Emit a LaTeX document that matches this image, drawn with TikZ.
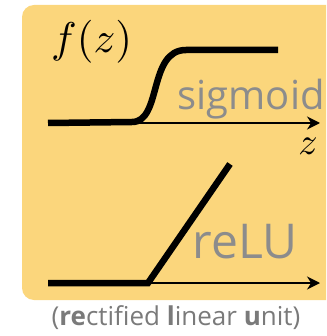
\documentclass[tikz,border=0pt]{standalone}
\usepackage{amsmath}
\usepackage{fontspec}
\setsansfont{Open Sans}
\usepackage{tikz}
\usetikzlibrary{arrows.meta}

\definecolor{panelbg}{HTML}{FBD67C}
\definecolor{labelgray}{HTML}{8C8C8C}
\definecolor{capgray}{HTML}{7A7A7A}

\begin{document}
\begin{tikzpicture}[x=1pt, y=-1pt, >={Stealth[length=13pt, width=13pt]},
  curve/.style={black, line width=6.5pt},
  axis/.style={black, line width=2pt, ->},
  fname/.style={labelgray, font=\sffamily\fontsize{#1}{#1}\selectfont}]
  \useasboundingbox (0,0) rectangle (326,336);
  \clip (0,0) rectangle (326,336);

  % panel
  \fill[panelbg, rounded corners=12pt] (22,5) rectangle (350,300);

  % sigmoid
  \coordinate (sig-o) at (48,123);
  \coordinate (sig-x) at (320,123);
  \draw[axis] (sig-o) -- (sig-x);
  \draw[curve] (sig-o) -- (132,122)
    .. controls (162,122) and (148,50) .. (186,50) -- (278,50);
  \node[anchor=west, scale=4.3] (fz) at (36,42) {$f(z)$};
  \node[scale=3.8] (zlab) at (308,146) {$z$};
  \node[fname=40, anchor=base west] (sig) at (174,110) {sigmoid};

  % reLU
  \coordinate (relu-o) at (48,283);
  \coordinate (relu-k) at (148,283);
  \coordinate (relu-x) at (320,283);
  \draw[axis] (relu-o) -- (relu-x);
  \draw[curve] (relu-o) -- (relu-k) -- (230,164);
  \node[fname=48, anchor=base west] (relu) at (189,258) {reLU};

  \node[capgray, anchor=base, font=\sffamily\fontsize{26}{26}\selectfont]
    (cap) at (176,325)
    {(\textbf{re}ctified \textbf{l}inear \textbf{u}nit)};
\end{tikzpicture}
\end{document}
